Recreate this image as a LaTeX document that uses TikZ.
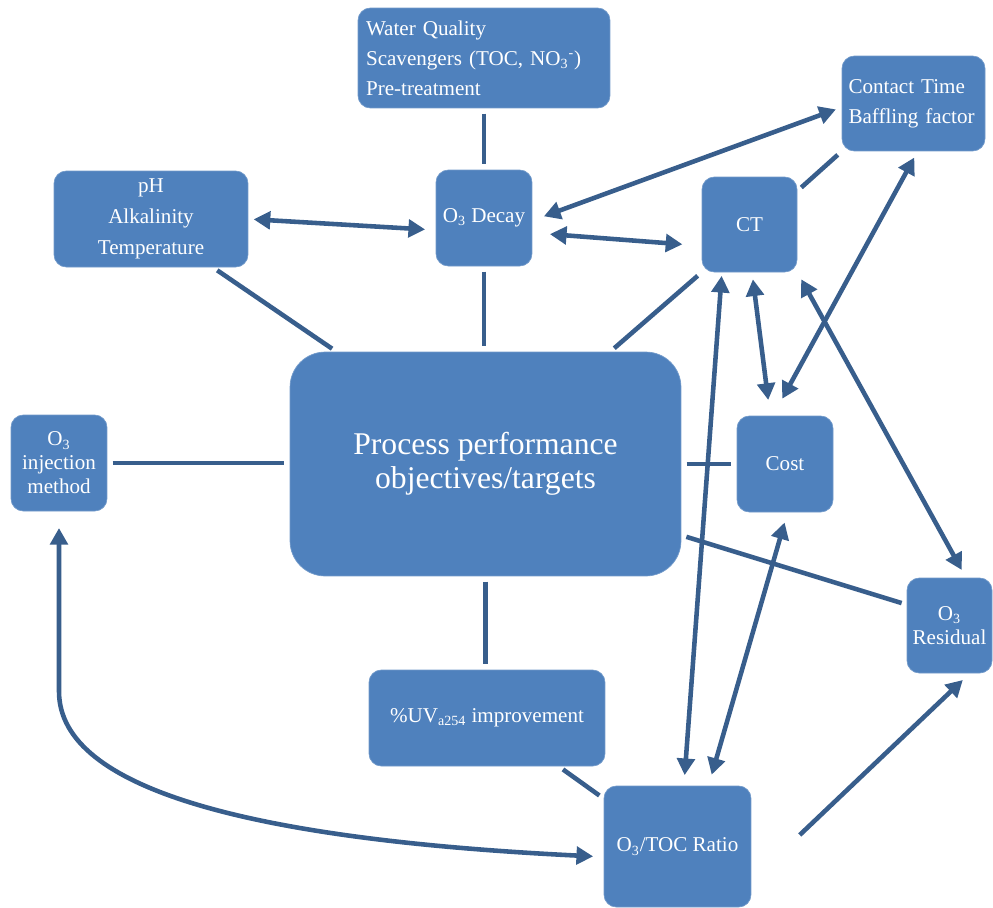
\documentclass[tikz,border=0pt]{standalone}
\usepackage{fontspec}
\setmainfont{Liberation Serif}
\usetikzlibrary{arrows.meta,calc}
\definecolor{boxblue}{RGB}{79,129,189}
\definecolor{linkblue}{RGB}{56,94,140}
\tikzset{
  box/.style={fill=boxblue, draw=boxblue!80!white, rounded corners=7pt, text=white,
    font=\fontsize{12}{17}\selectfont, align=center, inner sep=0pt},
  link/.style={draw=linkblue, line width=2.6pt, shorten <=3pt, shorten >=3pt},
  dbl/.style={link, {Triangle[length=9.5pt,width=10pt]}-{Triangle[length=9.5pt,width=10pt]}},
  sgl/.style={link, -{Triangle[length=9.5pt,width=10pt]}},
}
\begin{document}
\begin{tikzpicture}[x=0.02cm, y=-0.02cm]
    \useasboundingbox (0,0) rectangle (993,907);
    \node[box, minimum width=5.04cm, minimum height=2cm, text width=4.72cm, align=left] (water) at (484,58)
        {Water Quality\\ Scavengers (TOC, NO\textsubscript{3}\textsuperscript{-})\\ Pre-treatment};
    \node[box, minimum width=2.86cm, minimum height=1.9cm, text width=2.6cm, align=left] (contact) at (913.5,103.5)
        {Contact Time\\ Baffling factor};
    \node[box, minimum width=3.88cm, minimum height=1.92cm, font=\fontsize{12}{17.6}\selectfont] (ph) at (151,219)
        {pH\\ Alkalinity\\ Temperature};
    \node[box, minimum size=1.92cm] (decay) at (484,218) {O\textsubscript{3} Decay};
    \node[box, minimum size=1.9cm] (ct) at (749.5,224.5) {CT};
    \node[box, minimum width=7.82cm, minimum height=4.48cm, rounded corners=20pt,
        font=\fontsize{18}{19.5}\selectfont] (process) at (485.5,464) {Process performance\\ objectives/targets};
    \node[box, minimum size=1.92cm, font=\fontsize{12}{13.6}\selectfont] (inj) at (59,463) {O\textsubscript{3}\\ injection\\ method};
    \node[box, minimum size=1.92cm] (cost) at (785,464) {Cost};
    \node[box, minimum width=1.7cm, minimum height=1.9cm, font=\fontsize{12}{13.6}\selectfont] (resid) at (949.5,625.5)
        {O\textsubscript{3}\\ Residual};
    \node[box, minimum width=4.72cm, minimum height=1.92cm] (uv) at (487,718) {\%UV\textsubscript{a254} improvement};
    \node[box, minimum width=2.94cm, minimum height=2.42cm] (ratio) at (677.5,846.5) {O\textsubscript{3}/TOC Ratio};

    \draw[link] (water.south) -- (decay.north);
    \draw[link] (decay.south) -- (decay.south |- process.north);
    \draw[link] (ph.-38) -- (process.143.4);
    \draw[link] (ct.south west) -- (process.42.8);
    \draw[link] (inj.east) -- (inj.east -| process.west);
    \draw[link] (process.east |- cost.west) -- (cost.west);
    \draw[link] (process.-20) -- (resid.154.8);
    \draw[link] (process.south) -- (process.south |- uv.north);
    \draw[link] (uv.-34.8) -- (ratio.147.1);
    \draw[link] (ct.35.3) -- (contact.south west);

    \draw[dbl, shorten >=6pt] (ph.east) -- (decay.194.8);
    \draw[dbl, shorten <=3.5pt, shorten >=7pt] (contact.183.6) -- (decay.-3);
    \draw[dbl, shorten <=10pt, shorten >=11pt] (decay.-17) -- (ct.204.5);
    \draw[dbl, shorten <=4pt, shorten >=11pt] (contact.-85.8) -- (cost.104);
    \draw[dbl, shorten <=4pt, shorten >=9pt] (ct.-87.6) -- (cost.107.4);
    \draw[dbl, shorten <=4.5pt, shorten >=5pt] (ct.south east) -- (resid.71.4);
    \draw[dbl, shorten <=2pt, shorten >=6pt] (ct.240.6) -- (ratio.84.6);
    \draw[dbl, shorten <=6pt, shorten >=6.5pt] (cost.-87.6) -- (ratio.63.4);
    \draw[sgl, shorten <=38pt, shorten >=5.5pt] (ratio.-25.8) -- (resid.-67.4);
    \draw[dbl, shorten <=9.5pt, shorten >=6pt] (inj.south) -- ++(0,180)
        .. controls +(0,100) and +(-345,-17) .. (ratio.188.1);
\end{tikzpicture}
\end{document}
